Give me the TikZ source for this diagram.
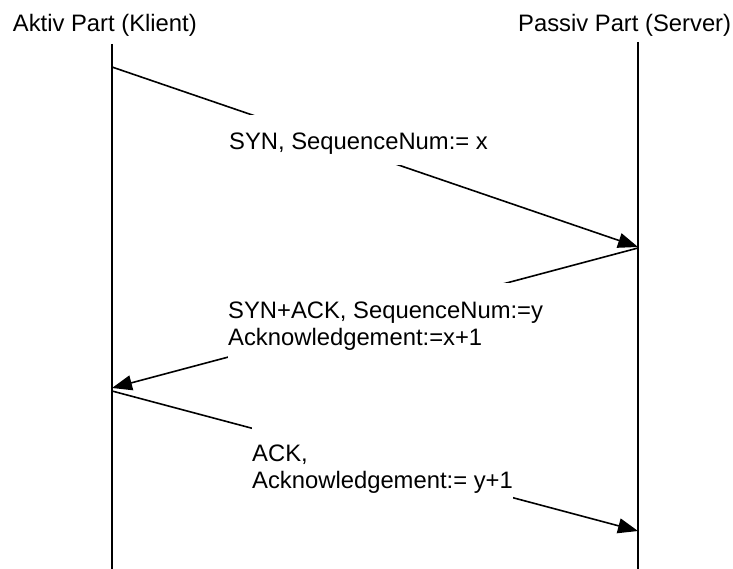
\documentclass[tikz,border=0pt]{standalone}
\usepackage{fontspec}
\setmainfont{Liberation Sans}
\usetikzlibrary{arrows.meta}
\begin{document}
\begin{tikzpicture}[x=1pt,y=-1pt,
  every node/.style={font=\fontsize{23.8}{26.7}\selectfont},
  life/.style={line width=1.6pt},
  msg/.style={line width=1.6pt,-{Triangle[length=20pt,width=15pt]}},
  lbl/.style={fill=white,inner sep=0pt,anchor=base west},
  title/.style={inner sep=0pt,anchor=base west}]
\useasboundingbox (0,0) rectangle (733,569);
% participants
\node[title] (kt) at (12.7,31.5) {Aktiv Part (Klient)};
\node[title] (st) at (518,31.5) {Passiv Part (Server)};
\coordinate (ktop) at (112,44);
\coordinate (kbot) at (112,569);
\coordinate (stop) at (638,42);
\coordinate (sbot) at (638,569);
\draw[life] (ktop) -- (kbot);
\draw[life] (stop) -- (sbot);
% message end points
\coordinate (k1) at (112,67);
\coordinate (s1) at (638,247);
\coordinate (s2) at (638,248);
\coordinate (k2) at (112,388);
\coordinate (k3) at (112,391);
\coordinate (s3) at (638,531);
\draw[msg] (k1) -- (s1);
\draw[msg] (s2) -- (k2);
\draw[msg] (k3) -- (s3);
% labels
\node[lbl,text height=35pt,text depth=15pt] (m1) at (229,150) {SYN, SequenceNum:= x};
\node[lbl,text height=35.3pt,text depth=43.7pt] (m2) at (228,318.3)
  {\begin{tabular}[t]{@{}l@{}}SYN+ACK, SequenceNum:=y\\Acknowledgement:=x+1\end{tabular}};
\node[lbl,text height=34.7pt,text depth=43.3pt] (m3) at (252,461.7)
  {\begin{tabular}[t]{@{}l@{}}ACK,\\Acknowledgement:= y+1\end{tabular}};
\end{tikzpicture}
\end{document}
